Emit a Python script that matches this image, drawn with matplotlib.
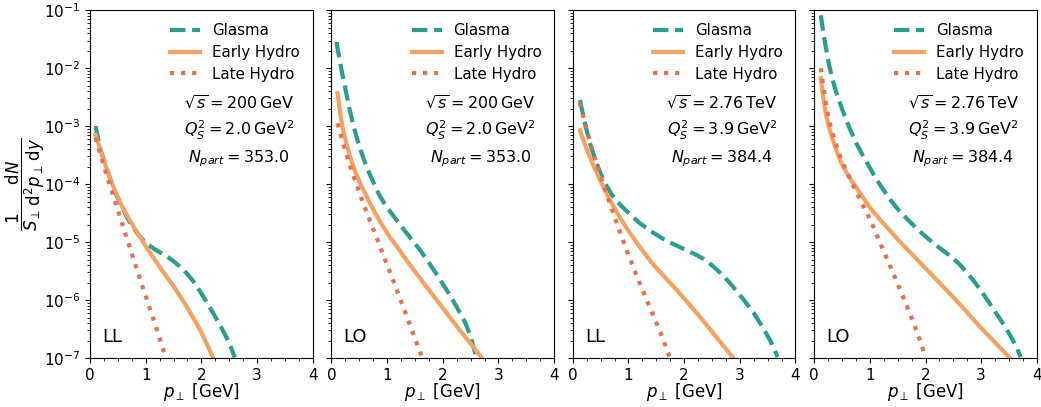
import matplotlib
matplotlib.use("Agg")
import numpy as np
import matplotlib.pyplot as plt
from matplotlib.ticker import AutoMinorLocator, LogLocator, NullFormatter

# ---------------- data (y given as log10 of dN) ----------------
panel_tags = ["LL", "LO", "LL", "LO"]
sqrt_s = [r"200\,\mathrm{GeV}", r"200\,\mathrm{GeV}", r"2.76\,\mathrm{TeV}", r"2.76\,\mathrm{TeV}"]
qs2 = ["2.0", "2.0", "3.9", "3.9"]
npart = ["353.0", "353.0", "384.4", "384.4"]

# Panel 1 (LL, 200 GeV)
p1_glasma_x = [0.10, 0.14, 0.18, 0.24, 0.30, 0.36, 0.41, 0.50, 0.60, 0.68, 0.77, 0.86, 0.95, 1.04, 1.13,
               1.21, 1.30, 1.40, 1.49, 1.60, 1.74, 1.85, 1.97, 2.10, 2.21, 2.33, 2.46, 2.53, 2.60]
p1_glasma_log = [-3.00, -3.20, -3.38, -3.56, -3.73, -3.90, -4.03, -4.25, -4.45, -4.60, -4.74, -4.86, -4.96, -5.04, -5.10,
                 -5.15, -5.20, -5.26, -5.32, -5.41, -5.54, -5.67, -5.84, -6.04, -6.22, -6.42, -6.66, -6.81, -6.99]
p1_early_x = [0.10, 0.15, 0.20, 0.28, 0.36, 0.45, 0.55, 0.66, 0.78, 0.90, 1.02, 1.14, 1.26, 1.38, 1.50,
              1.61, 1.73, 1.85, 1.97, 2.08, 2.21]
p1_early_log = [-3.15, -3.30, -3.45, -3.68, -3.90, -4.12, -4.33, -4.53, -4.73, -4.91, -5.10, -5.27, -5.44, -5.60, -5.76,
                -5.92, -6.10, -6.30, -6.50, -6.72, -6.99]
p1_late_x = [0.10, 0.20, 0.30, 0.40, 0.50, 0.60, 0.70, 0.80, 0.90, 1.00, 1.10, 1.20, 1.30, 1.36]
p1_late_log = [-3.20, -3.53, -3.85, -4.15, -4.45, -4.75, -5.05, -5.35, -5.64, -5.93, -6.22, -6.51, -6.81, -6.99]

# Panel 2 (LO, 200 GeV)
p2_glasma_x = [0.09, 0.14, 0.20, 0.26, 0.32, 0.38, 0.45, 0.52, 0.60, 0.68, 0.76, 0.85, 0.95, 1.06, 1.18,
               1.30, 1.43, 1.58, 1.72, 1.86, 2.00, 2.14, 2.27, 2.40, 2.50, 2.60]
p2_glasma_log = [-1.55, -1.82, -2.12, -2.40, -2.68, -2.93, -3.18, -3.40, -3.62, -3.81, -3.98, -4.17, -4.33, -4.48, -4.63,
                 -4.78, -4.94, -5.12, -5.31, -5.51, -5.72, -5.93, -6.15, -6.38, -6.62, -6.98]
p2_early_x = [0.11, 0.14, 0.17, 0.20, 0.27, 0.34, 0.41, 0.50, 0.60, 0.70, 0.80, 0.92, 1.04, 1.18, 1.34,
              1.52, 1.70, 1.86, 1.99, 2.17, 2.35, 2.52, 2.69]
p2_early_log = [-2.43, -2.65, -2.85, -3.02, -3.30, -3.54, -3.74, -3.95, -4.15, -4.34, -4.52, -4.72, -4.90, -5.08, -5.30,
                -5.53, -5.76, -5.96, -6.12, -6.35, -6.57, -6.77, -6.98]
p2_late_x = [0.11, 0.20, 0.30, 0.40, 0.50, 0.60, 0.70, 0.80, 0.90, 1.00, 1.10, 1.20, 1.30, 1.40, 1.50, 1.63]
p2_late_log = [-2.95, -3.27, -3.58, -3.87, -4.14, -4.40, -4.65, -4.89, -5.14, -5.39, -5.64, -5.89, -6.14, -6.40, -6.66, -6.99]

# Panel 3 (LL, 2.76 TeV)
p3_glasma_x = [0.13, 0.20, 0.30, 0.40, 0.50, 0.60, 0.70, 0.80, 0.92, 1.05, 1.20, 1.40, 1.60, 1.80, 2.00,
               2.20, 2.35, 2.50, 2.65, 2.80, 2.95, 3.10, 3.25, 3.40, 3.55, 3.68]
p3_glasma_log = [-2.55, -2.88, -3.27, -3.57, -3.82, -4.02, -4.18, -4.30, -4.42, -4.54, -4.67, -4.81, -4.93, -5.03, -5.12,
                 -5.21, -5.29, -5.40, -5.53, -5.68, -5.85, -6.03, -6.22, -6.45, -6.70, -6.98]
p3_early_x = [0.13, 0.20, 0.30, 0.40, 0.50, 0.60, 0.70, 0.83, 0.97, 1.12, 1.28, 1.45, 1.65, 1.87, 2.10,
              2.33, 2.60, 2.87]
p3_early_log = [-3.07, -3.27, -3.52, -3.74, -3.95, -4.15, -4.33, -4.55, -4.76, -4.97, -5.18, -5.39, -5.60, -5.83, -6.08,
                -6.34, -6.66, -6.98]
p3_late_x = [0.13, 0.20, 0.30, 0.40, 0.50, 0.60, 0.70, 0.80, 0.90, 1.00, 1.10, 1.20, 1.30, 1.40, 1.50, 1.60, 1.74]
p3_late_log = [-2.60, -2.88, -3.24, -3.56, -3.86, -4.15, -4.43, -4.70, -4.96, -5.22, -5.46, -5.70, -5.93, -6.16, -6.39,
               -6.62, -6.98]

# Panel 4 (LO, 2.76 TeV)
p4_glasma_x = [0.12, 0.17, 0.22, 0.27, 0.32, 0.40, 0.50, 0.63, 0.75, 0.87, 0.99, 1.12, 1.26, 1.40, 1.52,
               1.70, 1.88, 2.06, 2.24, 2.42, 2.60, 2.75, 2.90, 3.05, 3.19, 3.35, 3.50, 3.62, 3.71]
p4_glasma_log = [-1.09, -1.42, -1.70, -1.95, -2.16, -2.43, -2.70, -3.02, -3.28, -3.50, -3.70, -3.92, -4.12, -4.31, -4.45,
                 -4.63, -4.80, -4.95, -5.09, -5.22, -5.37, -5.53, -5.71, -5.91, -6.11, -6.34, -6.57, -6.78, -6.98]
p4_early_x = [0.12, 0.15, 0.19, 0.23, 0.27, 0.33, 0.40, 0.48, 0.58, 0.68, 0.80, 0.92, 1.04, 1.20, 1.36,
              1.52, 1.76, 2.00, 2.24, 2.48, 2.72, 2.96, 3.23, 3.50]
p4_early_log = [-2.17, -2.42, -2.68, -2.88, -3.03, -3.22, -3.42, -3.62, -3.80, -3.95, -4.12, -4.29, -4.45, -4.63, -4.80,
                -4.97, -5.21, -5.45, -5.69, -5.93, -6.18, -6.44, -6.71, -6.98]
p4_late_x = [0.12, 0.16, 0.21, 0.28, 0.36, 0.46, 0.57, 0.68, 0.80, 0.90, 1.00, 1.10, 1.22, 1.35, 1.47,
             1.60, 1.70, 1.80, 1.90, 2.00]
p4_late_log = [-2.00, -2.30, -2.60, -2.95, -3.22, -3.50, -3.76, -3.98, -4.22, -4.41, -4.60, -4.82, -5.09, -5.38, -5.65,
               -5.95, -6.18, -6.43, -6.69, -6.98]

glasma_x = [p1_glasma_x, p2_glasma_x, p3_glasma_x, p4_glasma_x]
glasma_log = [p1_glasma_log, p2_glasma_log, p3_glasma_log, p4_glasma_log]
early_x = [p1_early_x, p2_early_x, p3_early_x, p4_early_x]
early_log = [p1_early_log, p2_early_log, p3_early_log, p4_early_log]
late_x = [p1_late_x, p2_late_x, p3_late_x, p4_late_x]
late_log = [p1_late_log, p2_late_log, p3_late_log, p4_late_log]

# ---------------- styling ----------------
c_glasma = "#2a9d8f"
c_early = "#f4a261"
c_late = "#e76f51"

fig, axes = plt.subplots(1, 4, figsize=(10.41, 4.07), dpi=100, sharey=True)
fig.subplots_adjust(left=0.0865, right=0.996, top=0.975, bottom=0.12, wspace=0.084)

for i, ax in enumerate(axes):
    ax.plot(glasma_x[i], np.power(10.0, glasma_log[i]), color=c_glasma, lw=3, ls="--", label="Glasma")
    ax.plot(early_x[i], np.power(10.0, early_log[i]), color=c_early, lw=3, ls="-", label="Early Hydro")
    ax.plot(late_x[i], np.power(10.0, late_log[i]), color=c_late, lw=3, ls=":", label="Late Hydro")
    ax.set_yscale("log")
    ax.set_ylim(1e-7, 1e-1)
    ax.set_xlim(0, 4)
    ax.set_xticks([0, 1, 2, 3, 4])
    ax.xaxis.set_minor_locator(AutoMinorLocator(4))
    ax.yaxis.set_major_locator(LogLocator(base=10, numticks=10))
    ax.yaxis.set_minor_locator(LogLocator(base=10, subs=range(2, 10), numticks=100))
    ax.yaxis.set_minor_formatter(NullFormatter())
    ax.tick_params(labelsize=11)
    ax.set_xlabel(r"$p_\perp$ [GeV]", fontsize=12, labelpad=-1)
    ax.legend(loc="upper right", frameon=False, fontsize=10.8, labelspacing=0.46,
              borderaxespad=0.45)
    ax.text(0.67, 0.733, r"$\sqrt{s} = " + sqrt_s[i] + r"$", transform=ax.transAxes,
            ha="center", va="center", fontsize=11.5)
    ax.text(0.67, 0.655, r"$Q_S^2 = " + qs2[i] + r"\,\mathrm{GeV}^2$", transform=ax.transAxes,
            ha="center", va="center", fontsize=11.5)
    ax.text(0.67, 0.574, r"$N_{part} = " + npart[i] + r"$", transform=ax.transAxes,
            ha="center", va="center", fontsize=11.5)
    ax.text(0.055, 0.035, panel_tags[i], transform=ax.transAxes, ha="left", va="bottom", fontsize=13)

axes[0].set_ylabel(r"$\dfrac{1}{S_\perp}\dfrac{\mathrm{d}N}{\mathrm{d}^2p_\perp\,\mathrm{d}y}$", fontsize=12)
axes[0].yaxis.set_label_coords(-0.195, 0.5)

fig.savefig("out.png", dpi=100)
